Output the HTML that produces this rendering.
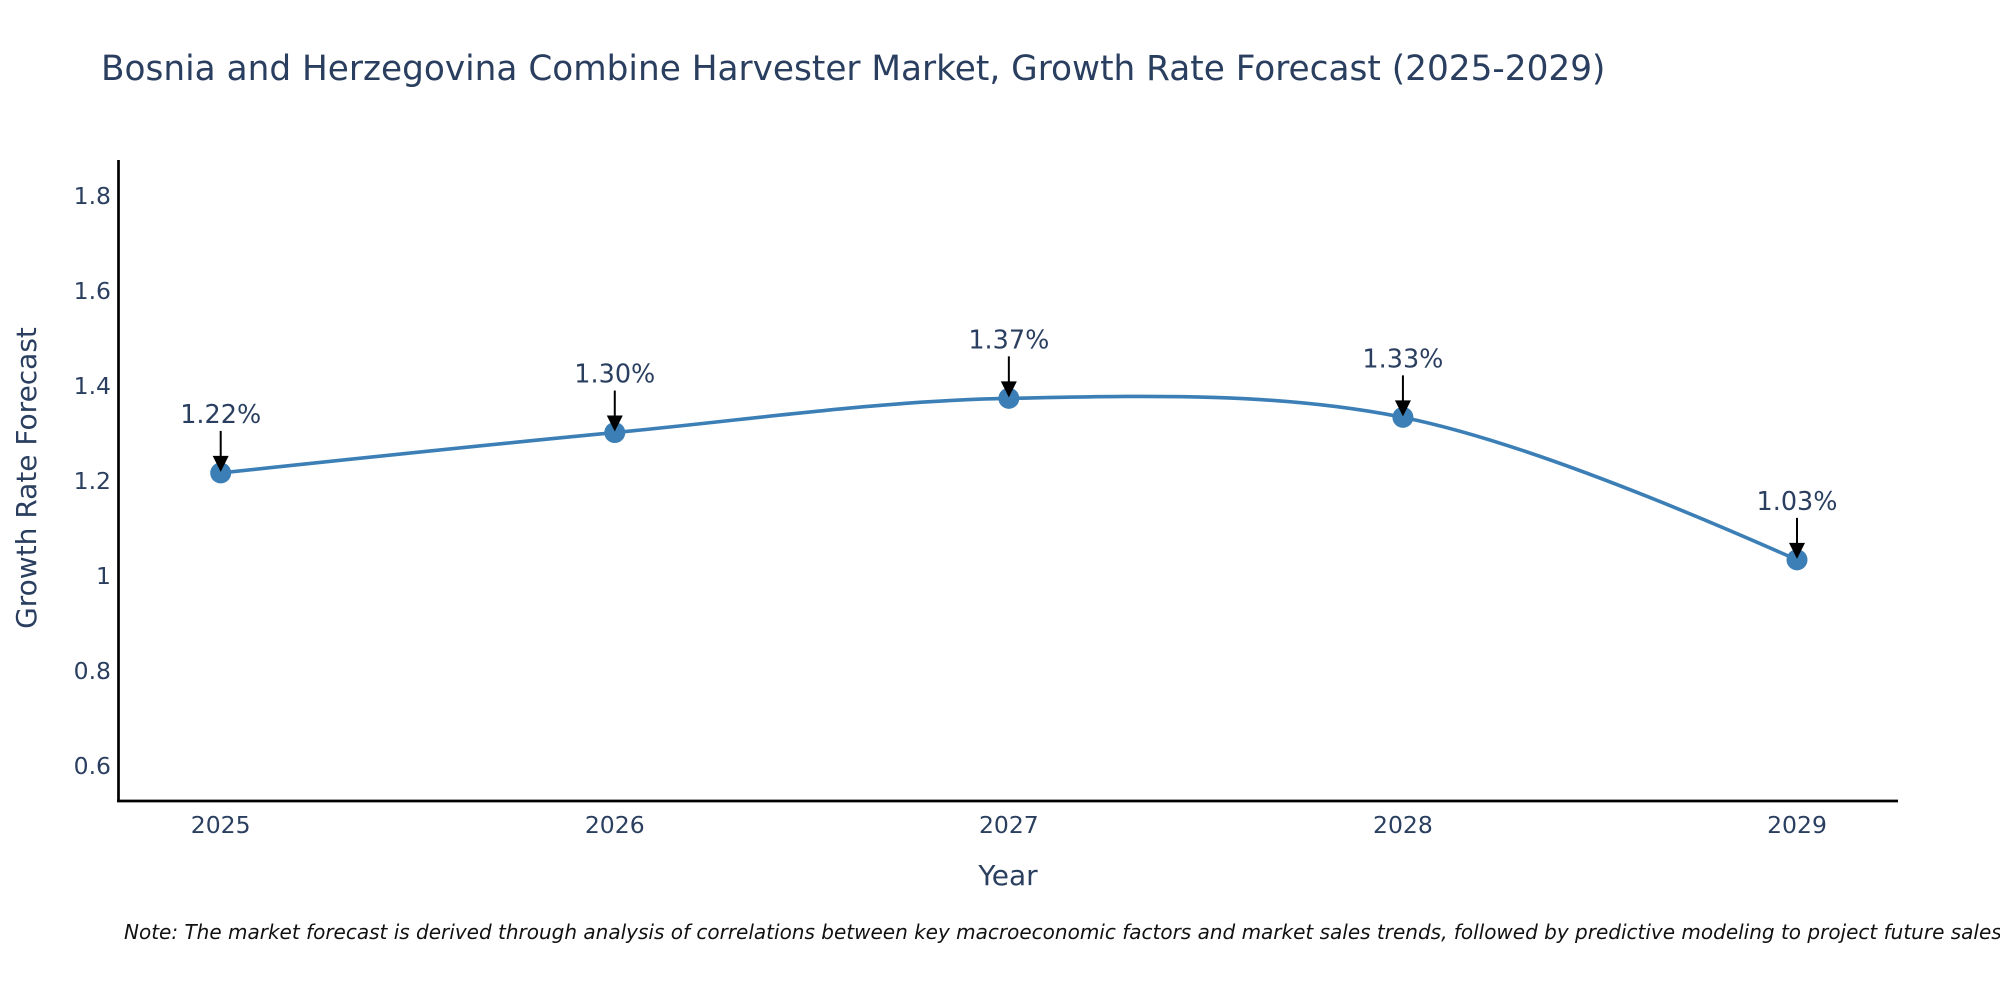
<!DOCTYPE html>
<html><head><meta charset="utf-8"><style>
html,body{margin:0;padding:0;background:#fff;width:2000px;height:1000px;overflow:hidden}
svg text{font-family:"DejaVu Sans","Liberation Sans",sans-serif;fill:#2a3f5f}
</style></head><body>
<svg id="chart" width="2000" height="1000">
<text x="101" y="80" font-size="34.3">Bosnia and Herzegovina Combine Harvester Market, Growth Rate Forecast (2025-2029)</text>
<g id="yticks"></g><g id="xticks"></g>
<line x1="118.5" y1="160" x2="118.5" y2="802" stroke="#000" stroke-width="2.7"/>
<line x1="117" y1="801" x2="1898" y2="801" stroke="#000" stroke-width="2.7"/>
<path id="line" fill="none" stroke="#3b7fb6" stroke-width="3.6"/>
<g id="points"></g><g id="annots"></g>
<text x="1008" y="885" font-size="28" text-anchor="middle">Year</text>
<text transform="translate(36,478) rotate(-90)" font-size="28" text-anchor="middle">Growth Rate Forecast</text>
<text x="124" y="939" font-size="20" font-style="italic" style="fill:#111">Note: The market forecast is derived through analysis of correlations between key macroeconomic factors and market sales trends, followed by predictive modeling to project future sales.</text>
</svg>
<script>
const years = [2025, 2026, 2027, 2028, 2029];
const growthValues = [1.217, 1.302, 1.374, 1.334, 1.034];
const valueLabels = ["1.22%", "1.30%", "1.37%", "1.33%", "1.03%"];
const yTickValues = [0.6, 0.8, 1, 1.2, 1.4, 1.6, 1.8];
const yTickLabels = ["0.6", "0.8", "1", "1.2", "1.4", "1.6", "1.8"];

const NS = "http://www.w3.org/2000/svg";
function xScale(yr){ return 220.7 + (yr - 2025) * (1797 - 220.7) / 4; }
function yScale(v){ return 576 - (v - 1) * 475; }
function mk(tag, attrs, parent){ const e=document.createElementNS(NS,tag); for(const k in attrs) e.setAttribute(k,attrs[k]); parent.appendChild(e); return e; }

const yt=document.getElementById('yticks');
yTickValues.forEach((v,i)=>{
  const t=mk('text',{x:111,y:yScale(v)+8,'font-size':23.5,'text-anchor':'end'},yt);
  
  
  t.textContent=yTickLabels[i];
});
const xt=document.getElementById('xticks');
years.forEach(yr=>{
  const t=mk('text',{x:xScale(yr),y:833,'font-size':23.5,'text-anchor':'middle'},xt);
  
  
  t.textContent=String(yr);
});

const pts=years.map((yr,i)=>[xScale(yr),yScale(growthValues[i])]);
function tangent(p0,p1,p2,s){
  const d1x=p0[0]-p1[0],d1y=p0[1]-p1[1],d2x=p2[0]-p1[0],d2y=p2[1]-p1[1];
  const d1a=Math.pow(d1x*d1x+d1y*d1y,0.25),d2a=Math.pow(d2x*d2x+d2y*d2y,0.25);
  const nx=(d2a*d2a*d1x-d1a*d1a*d2x)*s,ny=(d2a*d2a*d1y-d1a*d1a*d2y)*s;
  const den1=3*d2a*(d1a+d2a),den2=3*d1a*(d1a+d2a);
  return [[p1[0]+nx/den1,p1[1]+ny/den1],[p1[0]-nx/den2,p1[1]-ny/den2]];
}
const tg=[];
for(let i=1;i<pts.length-1;i++) tg.push(tangent(pts[i-1],pts[i],pts[i+1],1));
let d='M'+pts[0]+' Q'+tg[0][0]+' '+pts[1];
for(let i=2;i<pts.length-1;i++) d+=' C'+tg[i-2][1]+' '+tg[i-1][0]+' '+pts[i];
d+=' Q'+tg[tg.length-1][1]+' '+pts[pts.length-1];
document.getElementById('line').setAttribute('d',d);

const pg=document.getElementById('points'), ag=document.getElementById('annots');
pts.forEach((p,i)=>{
  const c=mk('circle',{cx:p[0],cy:p[1],r:10.5,fill:'#3b7fb6'},pg);
  
  
  const l=mk('line',{x1:p[0],y1:p[1]-42,x2:p[0],y2:p[1]-14,stroke:'#000','stroke-width':2},ag);
  
  
  const h=mk('path',{d:`M${p[0]-8},${p[1]-17} L${p[0]+8},${p[1]-17} L${p[0]},${p[1]-1} Z`,fill:'#000'},ag);
  
  
  const t=mk('text',{x:p[0],y:p[1]-50,'font-size':25.5,'text-anchor':'middle'},ag);
  
  
  t.textContent=valueLabels[i];
});
</script>
</body></html>
